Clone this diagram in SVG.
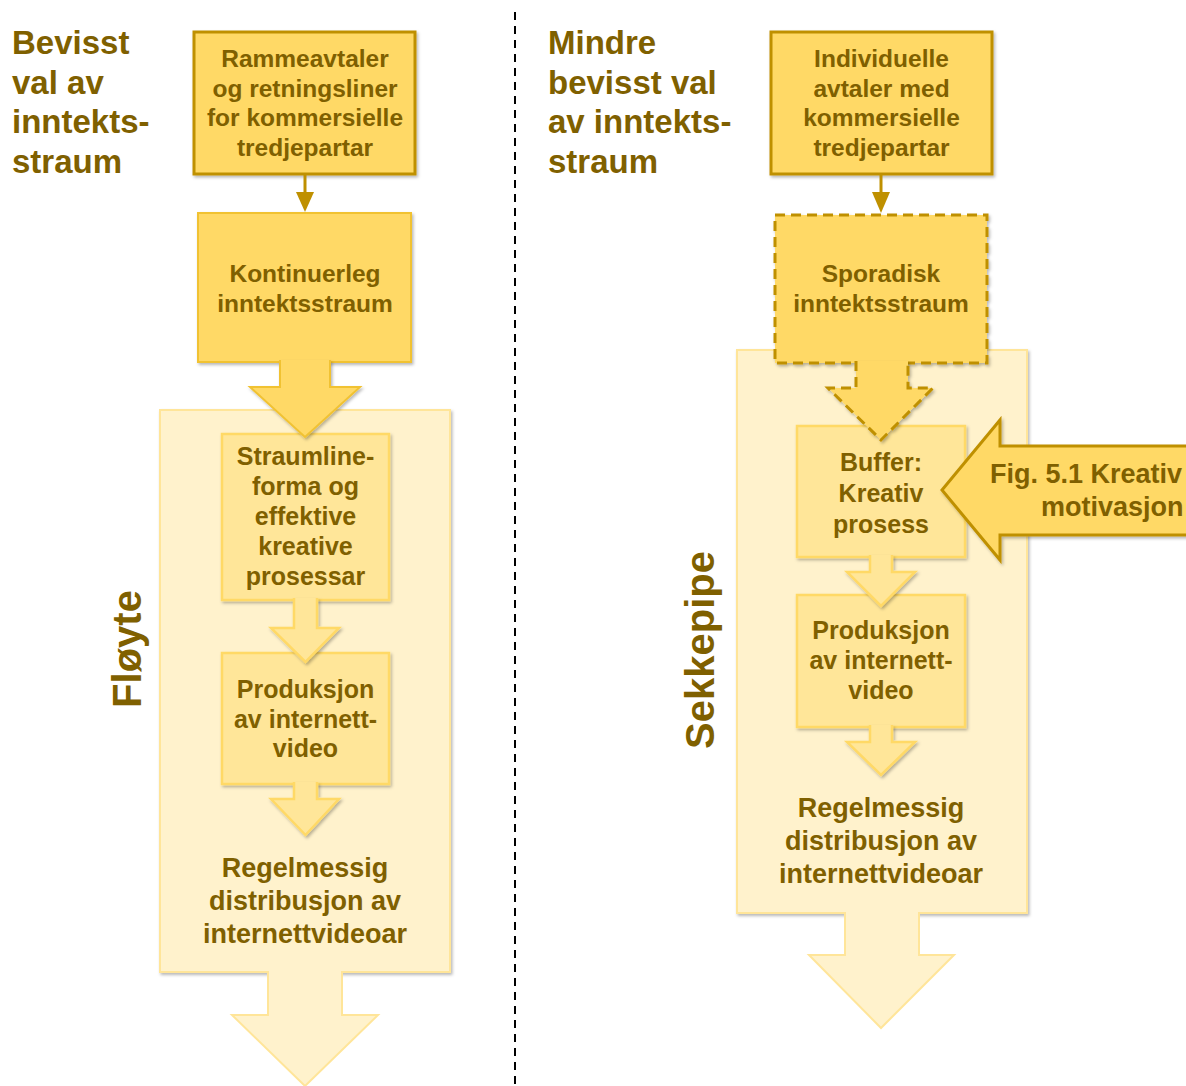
<svg xmlns="http://www.w3.org/2000/svg" width="1186" height="1086" viewBox="0 0 1186 1086">
  <style>
    text { font-family: "Liberation Sans", Arial, sans-serif; font-weight: bold; fill: #7f6000; }
    .title { font-size: 33px; }
    .box-t { font-size: 24.5px; text-anchor: middle; }
    .in-t { font-size: 25px; text-anchor: middle; }
    .dist-t { font-size: 27px; text-anchor: middle; }
    .side-t { font-size: 40px; text-anchor: middle; }
    .fig-t { font-size: 27px; }
    .src { fill: #ffd966; stroke: #bf9000; stroke-width: 3; }
    .flow { fill: #ffd966; stroke: #f1c232; stroke-width: 2; }
    .lane { fill: #fff2cc; stroke: #ffe599; stroke-width: 2; }
    .step { fill: #ffe699; stroke: #ffd966; stroke-width: 2.5; }
    .out { fill: #fff2cc; stroke: #ffe599; stroke-width: 2; }
    .dashed { stroke-dasharray: 10 6; }
    .link { stroke: #bf9000; stroke-width: 3; fill: none; }
    .tip { fill: #bf9000; }
  </style>
  <defs>
    <filter id="shadow" x="-10%" y="-10%" width="130%" height="130%">
      <feDropShadow dx="1.5" dy="2" stdDeviation="1.8" flood-color="#000" flood-opacity="0.28"/>
    </filter>
  </defs>

  <rect width="1186" height="1086" fill="#ffffff"/>

  <!-- column divider -->
  <line x1="515" y1="12" x2="515" y2="1086" stroke="#000" stroke-width="2" stroke-dasharray="8 6"/>

  <!-- column headings -->
  <g id="heading-left">
    <text class="title" x="12" y="54">Bevisst</text>
    <text class="title" x="12" y="94">val av</text>
    <text class="title" x="12" y="133">inntekts-</text>
    <text class="title" x="12" y="173">straum</text>
  </g>
  <g id="heading-right">
    <text class="title" x="548" y="54">Mindre</text>
    <text class="title" x="548" y="94">bevisst val</text>
    <text class="title" x="548" y="133">av inntekts-</text>
    <text class="title" x="548" y="173">straum</text>
  </g>

  <!-- lanes -->
  <g id="lane-floyte">
    <rect class="lane" x="160" y="410" width="290" height="562" filter="url(#shadow)"/>
    <text class="side-t" transform="translate(141 649) rotate(-90)">Fløyte</text>
  </g>
  <g id="lane-sekkepipe">
    <rect class="lane" x="737" y="350" width="290" height="563" filter="url(#shadow)"/>
    <text class="side-t" transform="translate(714 650) rotate(-90)">Sekkepipe</text>
  </g>

  <!-- left column nodes -->
  <g id="rammeavtaler">
    <rect class="src" x="194" y="32" width="221" height="142" filter="url(#shadow)"/>
    <text class="box-t" x="305" y="67">Rammeavtaler</text>
    <text class="box-t" x="305" y="96.5">og retningsliner</text>
    <text class="box-t" x="305" y="126">for kommersielle</text>
    <text class="box-t" x="305" y="155.5">tredjepartar</text>
  </g>
  <g id="kontinuerleg">
    <rect class="flow" x="198" y="213" width="213" height="149" filter="url(#shadow)"/>
    <text class="box-t" x="305" y="282">Kontinuerleg</text>
    <text class="box-t" x="305" y="312">inntektsstraum</text>
  </g>
  <g id="straumlineforma">
    <rect class="step" x="222" y="434" width="167" height="166" filter="url(#shadow)"/>
    <text class="in-t" x="305.5" y="465">Straumline-</text>
    <text class="in-t" x="305.5" y="495">forma og</text>
    <text class="in-t" x="305.5" y="525">effektive</text>
    <text class="in-t" x="305.5" y="555">kreative</text>
    <text class="in-t" x="305.5" y="585">prosessar</text>
  </g>
  <g id="produksjon-left">
    <rect class="step" x="222" y="653" width="167" height="131" filter="url(#shadow)"/>
    <text class="in-t" x="305.5" y="698">Produksjon</text>
    <text class="in-t" x="305.5" y="728">av internett-</text>
    <text class="in-t" x="305.5" y="757">video</text>
  </g>
  <g id="distribusjon-left">
    <text class="dist-t" x="305" y="877">Regelmessig</text>
    <text class="dist-t" x="305" y="910">distribusjon av</text>
    <text class="dist-t" x="305" y="943">internettvideoar</text>
  </g>

  <!-- right column nodes -->
  <g id="individuelle">
    <rect class="src" x="771" y="32" width="221" height="142" filter="url(#shadow)"/>
    <text class="box-t" x="881.5" y="67">Individuelle</text>
    <text class="box-t" x="881.5" y="96.5">avtaler med</text>
    <text class="box-t" x="881.5" y="126">kommersielle</text>
    <text class="box-t" x="881.5" y="155.5">tredjepartar</text>
  </g>
  <g id="sporadisk">
    <rect class="src dashed" x="775" y="215" width="212" height="148" filter="url(#shadow)"/>
    <text class="box-t" x="881" y="282">Sporadisk</text>
    <text class="box-t" x="881" y="312">inntektsstraum</text>
  </g>
  <g id="buffer">
    <rect class="step" x="797" y="426" width="168" height="131" filter="url(#shadow)"/>
    <text class="in-t" x="881" y="471">Buffer:</text>
    <text class="in-t" x="881" y="502">Kreativ</text>
    <text class="in-t" x="881" y="533">prosess</text>
  </g>
  <g id="produksjon-right">
    <rect class="step" x="797" y="595" width="168" height="132" filter="url(#shadow)"/>
    <text class="in-t" x="881" y="639">Produksjon</text>
    <text class="in-t" x="881" y="669">av internett-</text>
    <text class="in-t" x="881" y="699">video</text>
  </g>
  <g id="distribusjon-right">
    <text class="dist-t" x="881" y="817">Regelmessig</text>
    <text class="dist-t" x="881" y="850">distribusjon av</text>
    <text class="dist-t" x="881" y="883">internettvideoar</text>
  </g>

  <!-- connectors -->
  <g id="connectors">
    <!-- thin arrows from agreements -->
    <line class="link" x1="305" y1="175" x2="305" y2="195"/>
    <polygon class="tip" points="296,192 314,192 305,212"/>
    <line class="link" x1="881" y1="175" x2="881" y2="195"/>
    <polygon class="tip" points="872,192 890,192 881,213"/>

    <!-- block arrows, left -->
    <path class="flow" d="M280,360 V387 H250 L305,437 L360,387 H330 V360" filter="url(#shadow)"/>
    <path class="step" d="M294,598 V628 H271 L305.5,662 L339,628 H317 V598" filter="url(#shadow)"/>
    <path class="step" d="M294,782 V799 H271 L305.5,835 L339,799 H317 V782" filter="url(#shadow)"/>
    <path class="out" d="M268,971 V1015 H232 L305,1086 L378,1015 H342 V971"/>

    <!-- block arrows, right -->
    <path class="src dashed" d="M856,361 V388 H828 L881,440 L933,388 H908 V361" filter="url(#shadow)"/>
    <path class="step" d="M870,555 V572 H847 L881,606 L915,572 H892 V555" filter="url(#shadow)"/>
    <path class="step" d="M870,725 V742 H847 L881,775 L915,742 H892 V725" filter="url(#shadow)"/>
    <path class="out" d="M845,912 V955 H809 L881,1028 L954,955 H919 V912"/>

    <!-- incoming creative motivation -->
    <g id="fig-5-1">
      <path class="src" d="M1192,446 H1000 V420 L942,490 L1000,560 V535 H1192 Z" filter="url(#shadow)"/>
      <text class="fig-t" x="990" y="483">Fig. 5.1 Kreativ</text>
      <text class="fig-t" x="1041" y="516">motivasjon</text>
    </g>
  </g>
</svg>
